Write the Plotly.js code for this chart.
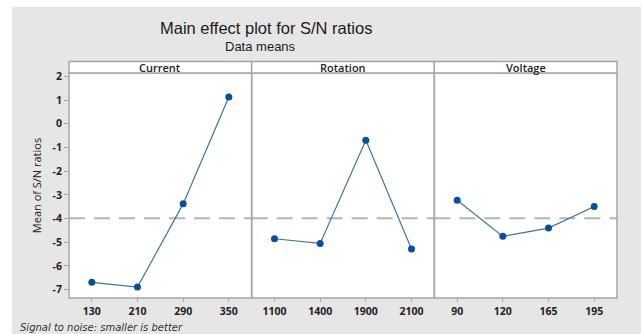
<!DOCTYPE html>
<html>
<head>
<meta charset="utf-8">
<script src="https://cdn.plot.ly/plotly-3.0.1.min.js"></script>
<style>html,body{margin:0;padding:0;background:#fff}</style>
</head>
<body>
<div id="chart" style="width:641px;height:334px"></div>
<script>
const currentLevels = ['130', '210', '290', '350'];
const currentSN = [-6.69, -6.89, -3.38, 1.13];
const rotationLevels = ['1100', '1400', '1900', '2100'];
const rotationSN = [-4.85, -5.05, -0.70, -5.28];
const voltageLevels = ['90', '120', '165', '195'];
const voltageSN = [-3.23, -4.75, -4.40, -3.49];
const grandMean = -3.99;
const panelNames = ['Current', 'Rotation', 'Voltage'];
const yTicks = [2, 1, 0, -1, -2, -3, -4, -5, -6, -7];

const lineColor = '#3a74ad';
const markerColor = '#0a4f9e';
const borderColor = '#a6a6a6';
const tickFont = {family: 'Open Sans, DejaVu Sans, sans-serif', size: 10.5, color: '#222', weight: 700};

const levels = [currentLevels, rotationLevels, voltageLevels];
const values = [currentSN, rotationSN, voltageSN];
const axisIds = ['x', 'x2', 'x3'];
const domains = [[0, 0.3333], [0.3333, 0.6667], [0.6667, 1]];

const traces = levels.map((lv, i) => ({
  x: lv, y: values[i], type: 'scatter', mode: 'lines+markers',
  xaxis: axisIds[i], yaxis: 'y',
  line: {color: lineColor, width: 1.2},
  marker: {color: markerColor, size: 7, symbol: 'circle'},
  hoverinfo: 'skip', showlegend: false
}));

const layout = {
  width: 641, height: 334,
  margin: {l: 69, r: 24.3, t: 73.3, b: 35.7},
  paper_bgcolor: '#e6e6e6', plot_bgcolor: '#ffffff',
  showlegend: false,
  yaxis: {
    range: [-7.35, 2.14], tickvals: yTicks, ticktext: yTicks.map(String),
    showgrid: false, zeroline: false, showline: false,
    ticks: 'outside', ticklen: 4, tickcolor: borderColor,
    tickfont: tickFont,
    title: {text: 'Mean of S/N ratios', font: {family: 'Open Sans, DejaVu Sans, sans-serif', size: 11, color: '#222'}, standoff: 8}
  },
  shapes: [],
  annotations: []
};

axisIds.forEach((id, i) => {
  const key = 'xaxis' + (i === 0 ? '' : (i + 1));
  layout[key] = {
    domain: domains[i], type: 'category', range: [-0.5, 3.5],
    showgrid: false, zeroline: false, showline: false,
    ticks: 'outside', ticklen: 3, tickcolor: borderColor,
    tickfont: tickFont, anchor: 'y', fixedrange: true
  };
});

// white margins at top and left of the gray canvas
layout.shapes.push({type: 'rect', xref: 'paper', yref: 'paper', layer: 'below',
  x0: -0.2, x1: 1.1, y0: 1.2947, y1: 1.4, fillcolor: '#ffffff', line: {width: 0}});
layout.shapes.push({type: 'rect', xref: 'paper', yref: 'paper', layer: 'below',
  x0: -0.2, x1: -0.1041, y0: -0.2, y1: 1.4, fillcolor: '#ffffff', line: {width: 0}});

// panel frames and strips
domains.forEach((d, i) => {
  layout.shapes.push({type: 'rect', xref: 'paper', yref: 'paper', layer: 'above',
    x0: d[0], x1: d[1], y0: 0, y1: 1, fillcolor: 'rgba(0,0,0,0)',
    line: {color: borderColor, width: 1.5}});
  layout.shapes.push({type: 'rect', xref: 'paper', yref: 'paper', layer: 'above',
    x0: d[0], x1: d[1], y0: 1, y1: 1.0516, fillcolor: '#ffffff',
    line: {color: borderColor, width: 1.5}});
  layout.annotations.push({xref: 'paper', yref: 'paper', x: (d[0] + d[1]) / 2, y: 1.0258,
    text: panelNames[i], showarrow: false, xanchor: 'center', yanchor: 'middle',
    font: {family: 'Open Sans, DejaVu Sans, sans-serif', size: 11, color: '#222', weight: 600}});
  layout.shapes.push({type: 'line', xref: axisIds[i] + ' domain', yref: 'y', layer: 'below',
    x0: 0, x1: 1, y0: grandMean, y1: grandMean,
    line: {color: '#b5b5b5', width: 2, dash: '16px,9px'}});
});

// titles
layout.annotations.push({xref: 'paper', yref: 'paper', x: (266 - 69) / 547.7, y: (298.3 - 28) / 225,
  text: 'Main effect plot for S/N ratios', showarrow: false, xanchor: 'center', yanchor: 'middle',
  font: {family: 'Liberation Sans, Arial, sans-serif', size: 16.5, color: '#1a1a1a'}});
layout.annotations.push({xref: 'paper', yref: 'paper', x: (260 - 69) / 547.7, y: (298.3 - 47) / 225,
  text: 'Data means', showarrow: false, xanchor: 'center', yanchor: 'middle',
  font: {family: 'Liberation Sans, Arial, sans-serif', size: 13, color: '#1a1a1a'}});
layout.annotations.push({xref: 'paper', yref: 'paper', x: (18 - 69) / 547.7, y: (298.3 - 328) / 225,
  text: '<i>Signal to noise: smaller is better</i>', showarrow: false, xanchor: 'left', yanchor: 'middle',
  font: {family: 'DejaVu Sans, sans-serif', size: 10, color: '#333'}});

Plotly.newPlot('chart', traces, layout, {displayModeBar: false, staticPlot: true});
</script>
</body>
</html>
